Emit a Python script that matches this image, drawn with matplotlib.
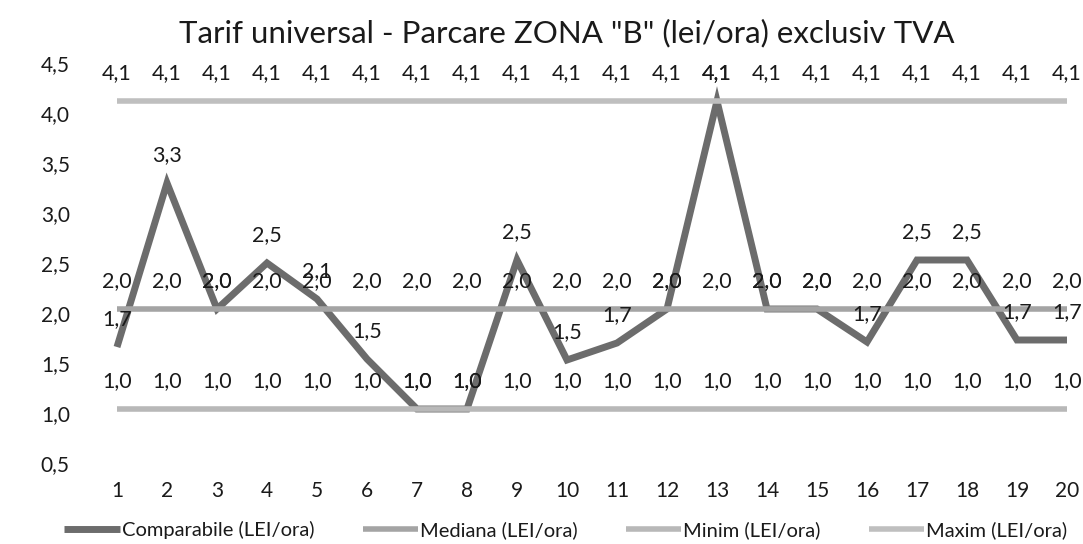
import numpy as np
import matplotlib
matplotlib.use("Agg")
import matplotlib.pyplot as plt

plt.rcParams['font.family'] = ['Lato', 'DejaVu Sans']

# data
categories = list(range(1, 21))
comparabile = [1.66, 3.3, 2.04, 2.5, 2.14, 1.54, 1.04, 1.04, 2.53, 1.53,
               1.7, 2.04, 4.12, 2.04, 2.04, 1.71, 2.53, 2.53, 1.73, 1.73]
mediana = [2.04] * 20
minim = [1.04] * 20
maxim = [4.12] * 20

series = [
    ("Comparabile (LEI/ora)", comparabile, "#6c6c6c", 5.0),
    ("Mediana (LEI/ora)", mediana, "#a4a4a4", 4.0),
    ("Minim (LEI/ora)", minim, "#b8b8b8", 4.0),
    ("Maxim (LEI/ora)", maxim, "#bfbfbf", 4.0),
]

W, H = 1083, 544
fig = plt.figure(figsize=(W / 100, H / 100), dpi=100)
# plot area in pixels: left 92, right 1083, top 63, bottom 463
ax = fig.add_axes([92 / W, (H - 463) / H, (W - 92) / W, 400 / H])

x = np.array(categories)
for name, vals, col, lw in series:
    ax.plot(x, vals, color=col, lw=lw, label=name, solid_capstyle='butt',
            solid_joinstyle='miter', zorder=2)

# data labels above every point (Excel style, comma decimal)
for name, vals, col, lw in series:
    for xi, v in zip(x, vals):
        ax.annotate(f"{v:.1f}".replace('.', ','), (xi, v), xytext=(0, 20),
                    textcoords='offset points', ha='center', va='center',
                    fontsize=15.5, color='#1a1a1a', zorder=5)

ax.set_xlim(0.5, 20.32)
ax.set_ylim(0.5, 4.5)
ax.set_xticks(x)
ax.set_xticklabels([str(c) for c in categories])
yt = np.arange(0.5, 4.51, 0.5)
ax.set_yticks(yt)
ax.set_yticklabels([f"{t:.1f}".replace('.', ',') for t in yt])
ax.tick_params(axis='x', length=0, pad=13, labelsize=15, colors='#1a1a1a')
ax.tick_params(axis='y', length=0, pad=16, labelsize=15, colors='#1a1a1a')
for s in ax.spines.values():
    s.set_visible(False)

fig.text(567 / W, 1 - 33 / H, 'Tarif universal - Parcare ZONA "B" (lei/ora) exclusiv TVA',
         ha='center', va='center', fontsize=22.5, color='#1a1a1a')

fig.legend(loc='center', bbox_to_anchor=(566 / W, 1 - 530 / H), ncol=4, frameon=False,
           fontsize=14.5, handlelength=2.75, handletextpad=0.1, columnspacing=2.4,
           labelcolor='#1a1a1a')

fig.savefig("out.png", dpi=100)
